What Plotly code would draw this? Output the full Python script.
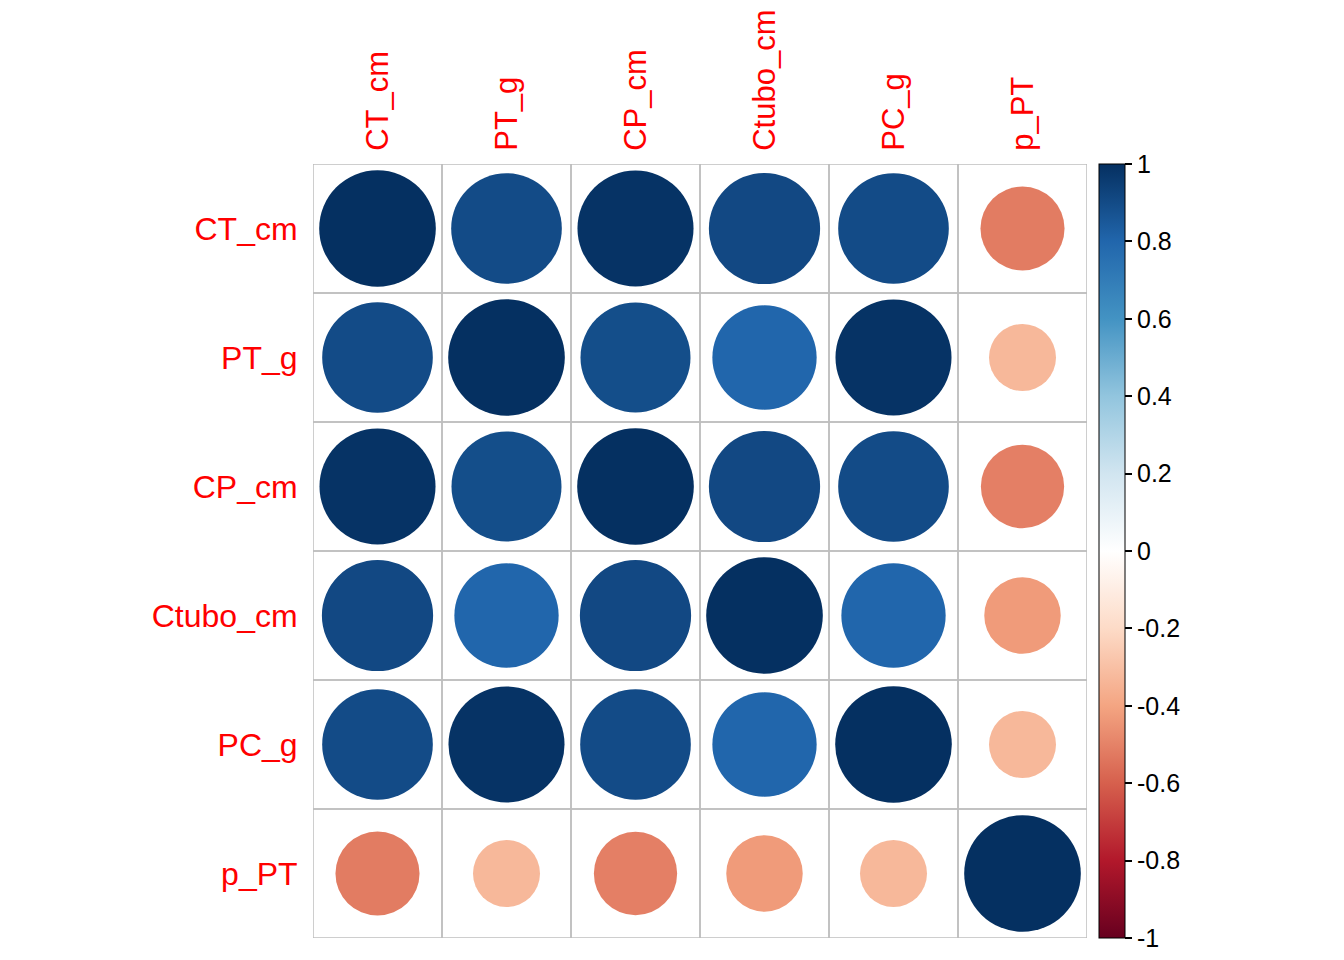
import plotly.graph_objects as go
from plotly.colors import sample_colorscale

labels = ["CT_cm", "PT_g", "CP_cm", "Ctubo_cm", "PC_g", "p_PT"]

# correlation matrix (row by row)
row_ct = [1.00, 0.90, 0.99, 0.91, 0.90, -0.52]
row_pt = [0.90, 1.00, 0.89, 0.80, 0.99, -0.33]
row_cp = [0.99, 0.89, 1.00, 0.91, 0.90, -0.51]
row_ctubo = [0.91, 0.80, 0.91, 1.00, 0.80, -0.43]
row_pc = [0.90, 0.99, 0.90, 0.80, 1.00, -0.33]
row_ppt = [-0.52, -0.33, -0.51, -0.43, -0.33, 1.00]
corr = [row_ct, row_pt, row_cp, row_ctubo, row_pc, row_ppt]

cbar_vals = [1, 0.8, 0.6, 0.4, 0.2, 0, -0.2, -0.4, -0.6, -0.8, -1]
cbar_text = ["1", "0.8", "0.6", "0.4", "0.2", "0", "-0.2", "-0.4", "-0.6", "-0.8", "-1"]

rdbu = ["#67001F", "#B2182B", "#D6604D", "#F4A582", "#FDDBC7", "#FFFFFF",
        "#D1E5F0", "#92C5DE", "#4393C3", "#2166AC", "#053061"]
cscale = [[i / 10, c] for i, c in enumerate(rdbu)]

n = len(labels)
fig = go.Figure()

shapes = []
# cell borders
for i in range(n):
    for j in range(n):
        shapes.append(dict(type="rect", xref="x", yref="y",
                           x0=j + 0.5, x1=j + 1.5, y0=n - i - 0.5, y1=n - i + 0.5,
                           line=dict(color="#BEBEBE", width=1.5), fillcolor="rgba(0,0,0,0)",
                           layer="below"))
# circles
for i in range(n):
    for j in range(n):
        r = corr[i][j]
        rad = 0.452 * abs(r) ** 0.5
        col = sample_colorscale(cscale, [(r + 1) / 2])[0]
        cx, cy = j + 1, n - i
        shapes.append(dict(type="circle", xref="x", yref="y",
                           x0=cx - rad, x1=cx + rad, y0=cy - rad, y1=cy + rad,
                           line=dict(width=0), fillcolor=col))

fig.add_trace(go.Scatter(
    x=[None], y=[None], mode="markers", showlegend=False, hoverinfo="skip",
    marker=dict(color=[0], colorscale=cscale, cmin=-1, cmax=1, showscale=True,
                colorbar=dict(x=1.0155, xanchor="left", xpad=0, y=0.5, yanchor="middle",
                              len=1, ypad=0, thickness=26, outlinecolor="black", outlinewidth=1,
                              tickvals=cbar_vals, ticktext=cbar_text, ticks="outside",
                              ticklen=7, tickcolor="black", tickwidth=1.5,
                              tickfont=dict(size=25, color="black",
                                            family="Liberation Sans, Arial")))
))

# the page body adds 8px offset, so margins are shifted by 8
fig.update_layout(
    width=1344, height=960,
    margin=dict(l=305, r=265, t=156, b=30),
    plot_bgcolor="white", paper_bgcolor="white",
    shapes=shapes,
    font=dict(family="Liberation Sans, Arial"),
)
fig.update_xaxes(range=[0.5, n + 0.5], side="top", tickvals=list(range(1, n + 1)),
                 ticktext=labels, tickangle=-90, showgrid=False, zeroline=False,
                 ticks="outside", ticklen=6, tickcolor="rgba(0,0,0,0)", automargin=False,
                 tickfont=dict(size=31, color="red"), fixedrange=True)
fig.update_yaxes(range=[0.5, n + 0.5], tickvals=list(range(n, 0, -1)),
                 ticktext=labels, showgrid=False, zeroline=False, automargin=False,
                 ticks="outside", ticklen=8, tickcolor="rgba(0,0,0,0)",
                 tickfont=dict(size=32, color="red"), fixedrange=True)

fig.write_html("out.html")
